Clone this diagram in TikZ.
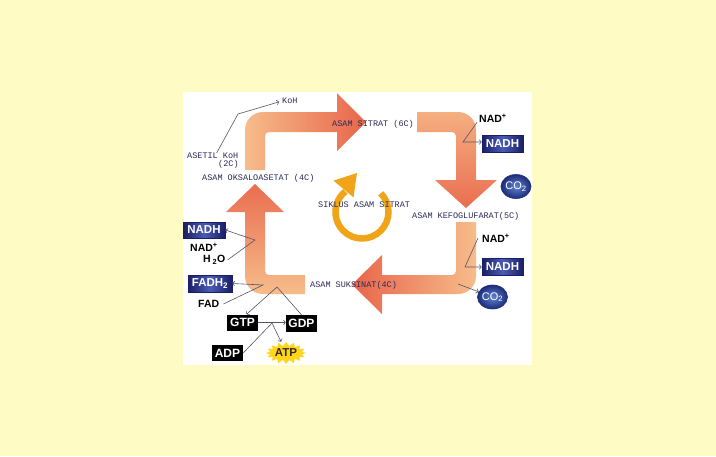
\documentclass[tikz,border=0pt]{standalone}
\usepackage{fontspec}
\setmainfont{Liberation Sans}
\newfontfamily\monofont{Liberation Mono}
\usetikzlibrary{arrows.meta,shapes.symbols,shapes.geometric}
\definecolor{bgyellow}{HTML}{FFFBC4}
\definecolor{peach}{HTML}{F7BC8A}
\definecolor{redor}{HTML}{E8654A}
\definecolor{ringcol}{HTML}{F0A418}
\definecolor{navytext}{HTML}{2A2A58}
\definecolor{linegray}{HTML}{55556A}
\definecolor{nadhin}{HTML}{4A5CB4}
\definecolor{nadhout}{HTML}{1A1E66}
\definecolor{co2in}{HTML}{6384D0}
\definecolor{co2out}{HTML}{1C2C7A}
\definecolor{atpyellow}{HTML}{FFD61C}
\definecolor{atptext}{HTML}{3A2A10}
\tikzset{
  mono/.style={font=\monofont\fontsize{8.5}{9}\selectfont, text=navytext, inner sep=0pt},
  lbl/.style={font=\bfseries\fontsize{10.5}{11}\selectfont, text=black, inner sep=0pt},
  bluebox/.style={rectangle, left color=nadhout, right color=nadhout, middle color=nadhin, draw=nadhout, line width=0.8pt,
    text=white, font=\bfseries\fontsize{11.5}{12}\selectfont, minimum width=41pt, minimum height=17pt, inner sep=0pt},
  co2node/.style={ellipse, inner color=co2in, outer color=co2out, draw=co2out, line width=0.6pt,
    text=white, font=\fontsize{11}{12}\selectfont, minimum width=30pt, minimum height=24pt, inner sep=0pt},
  blackbox/.style={rectangle, fill=black, text=white, font=\bfseries\fontsize{12}{13}\selectfont,
    minimum width=31pt, minimum height=16pt, inner sep=0pt},
  atpstar/.style={starburst, starburst points=16, starburst point height=4pt, random starburst=0,
    fill=atpyellow, text=atptext, font=\bfseries\fontsize{11.5}{12}\selectfont,
    minimum width=40pt, minimum height=22pt, inner sep=0pt},
  conn/.style={draw=linegray, line width=0.6pt},
  conna/.style={conn, -{To[length=2.5pt,width=5pt]}},
}
\begin{document}
\begin{tikzpicture}[x=1pt,y=-1pt]
\fill[bgyellow] (0,0) rectangle (716,456);
\useasboundingbox (0,0) rectangle (716,456);
\fill[white] (183,92) rectangle (532,365);

% big cycle arrows
\shade[left color=peach, right color=redor]
  (245,170) -- (245,130) .. controls (245,120) and (253,112) .. (263,112) -- (337,112) -- (337,93)
  -- (366,122) -- (337,151) -- (337,132) -- (269,132) .. controls (266.8,132) and (265,133.8) .. (265,136)
  -- (265,170) -- cycle;
\shade[top color=peach!85!redor, bottom color=redor!90!peach]
  (417,112) -- (458,112) .. controls (468,112) and (476,120) .. (476,130) -- (476,180) -- (497,180)
  -- (466,208) -- (435,180) -- (456,180) -- (456,136) .. controls (456,133.8) and (454.2,132) .. (452,132)
  -- (417,132) -- cycle;
\shade[right color=peach, left color=redor]
  (456,222) -- (476,222) -- (476,276) .. controls (476,286) and (468,294) .. (458,294) -- (382,294)
  -- (382,314) -- (352,284.5) -- (382,255) -- (382,275) -- (452,275) .. controls (454.2,275) and (456,273.2) .. (456,271)
  -- cycle;
\shade[bottom color=peach, top color=redor!90!peach]
  (305,275) -- (305,294) -- (263,294) .. controls (253,294) and (245,286) .. (245,276) -- (245,212)
  -- (226,212) -- (255,184) -- (284,212) -- (265,212) -- (265,271) .. controls (265,273.2) and (266.8,275) .. (269,275)
  -- cycle;

% central ring arrow
\draw[ringcol, line width=6.5pt] (362,212) ++(-45:26.5) arc[start angle=-45, end angle=231, radius=26.5];
\fill[ringcol] (357,173) -- (333.5,180.6) -- (353.5,197.4) -- cycle;

% mono labels
\node[mono, anchor=west] (koh) at (282,101) {KoH};
\node[mono, anchor=west] (asetil) at (187,156) {ASETIL KoH};
\node[mono, anchor=west] (asetilc) at (218,164) {(2C)};
\node[mono, anchor=west] (oksalo) at (202,178) {ASAM OKSALOASETAT (4C)};
\node[mono, anchor=west] (sitrat) at (332,124) {ASAM SITRAT (6C)};
\node[mono, anchor=west] (siklus) at (318,205) {SIKLUS ASAM SITRAT};
\node[mono, anchor=west] (kefo) at (412,216) {ASAM KEFOGLUFARAT(5C)};
\node[mono, anchor=west] (suksi) at (310,285) {ASAM SUKSINAT(4C)};

% right side
\node[lbl, anchor=west] (nadT) at (479,118) {NAD\textsuperscript{+}};
\node[bluebox] (nadhT) at (502.5,143.5) {NADH};
\node[co2node] (co2T) at (516,186.5) {CO\textsubscript{2}};
\node[lbl, anchor=west] (nadM) at (482,238) {NAD\textsuperscript{+}};
\node[bluebox] (nadhM) at (502.5,267) {NADH};
\node[co2node] (co2B) at (492.5,297) {CO\textsubscript{2}};

% left side
\node[bluebox, minimum width=42pt, minimum height=16pt] (nadhL) at (204,230) {NADH};
\node[lbl, anchor=west] (nadL) at (190,247) {NAD\textsuperscript{+}};
\node[lbl, anchor=west] (h2o) at (203,260) {H\,\textsubscript{2}O};
\node[bluebox, minimum width=44pt] (fadh) at (210,283.5) {FADH\textsubscript{2}};
\node[lbl, anchor=west] (fad) at (198,304) {FAD};
\node[blackbox] (gtp) at (242.5,322.5) {GTP};
\node[blackbox, minimum height=17pt] (gdp) at (301.5,323.5) {GDP};
\node[blackbox] (adp) at (227.5,353) {ADP};
\node[atpstar] (atp) at (286,353) {ATP};

% connector bend points
\coordinate (kohbend) at (238,114);
\coordinate (bendT) at (463,142);
\coordinate (bendM) at (465,267);
\coordinate (co2start) at (458,284);
\coordinate (bendH) at (255,240);
\coordinate (bendF) at (263,285);
\coordinate (bendG) at (277,287);
\coordinate (junc) at (272,323);

% connectors
\draw[conna, shorten >=3pt] ([xshift=4pt]asetil.north) -- (kohbend) -- (koh.west);
\draw[conna] ([xshift=-2pt]nadT.south west) -- (bendT) -- (bendT -| nadhT.west);
\draw[conna] ([xshift=-4pt]nadM.west) -- (bendM) -- (nadhM.west);
\draw[conna] (co2start) -- (co2B);
\draw[conna] ([xshift=2pt]h2o.east) -- (bendH) -- (nadhL.east);
\draw[conna] ([xshift=4pt]fad.east) -- (bendF) -- (fadh.east);
\draw[conna] (gdp.north) -- (bendG) -- ([xshift=4pt]gtp.north);
\draw[conna] (gtp.east) -- (gtp.east -| gdp.west);
\draw[conn] (adp.east) -- (junc);
\draw[conna] (junc) -- ([xshift=-5pt]atp.north);
\end{tikzpicture}
\end{document}
